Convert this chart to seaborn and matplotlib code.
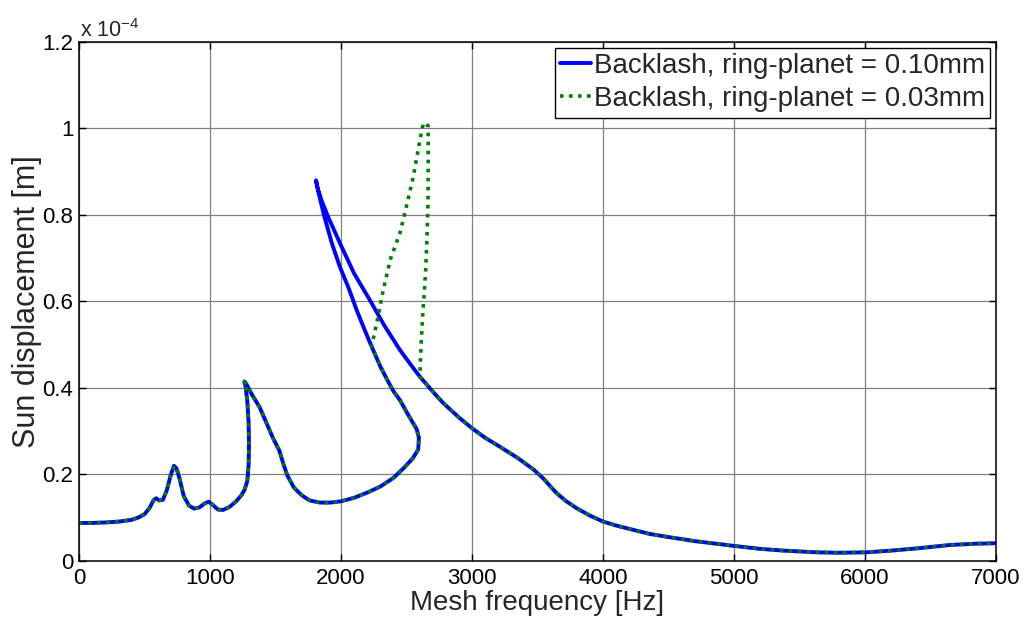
import numpy as np
import pandas as pd
import matplotlib
matplotlib.use("Agg")
import matplotlib.pyplot as plt
import seaborn as sns

# ---------------- data (x in Hz, y in units of 1e-4 m) ----------------
# common low-frequency part (both backlash values)
low_x = [0, 100, 200, 300, 400, 450, 500, 540, 570, 590, 610, 640, 670, 700,
         725, 745, 770, 800, 840, 880, 920, 960, 990, 1020, 1060, 1100, 1150,
         1200, 1240, 1265, 1285, 1295, 1298, 1295, 1285, 1272, 1263, 1280,
         1320, 1380, 1430, 1480, 1530, 1560, 1590, 1640, 1700, 1760, 1840,
         1920, 2000, 2100, 2200, 2300, 2400, 2480, 2550, 2590, 2595]
low_y = [0.088, 0.088, 0.089, 0.091, 0.095, 0.100, 0.108, 0.123, 0.141, 0.145,
         0.140, 0.141, 0.163, 0.198, 0.220, 0.214, 0.188, 0.150, 0.128, 0.121,
         0.124, 0.133, 0.137, 0.130, 0.119, 0.118, 0.125, 0.138, 0.152, 0.165,
         0.185, 0.220, 0.270, 0.320, 0.370, 0.403, 0.415, 0.408, 0.385, 0.355,
         0.320, 0.285, 0.255, 0.225, 0.198, 0.170, 0.152, 0.140, 0.135, 0.135,
         0.138, 0.146, 0.158, 0.172, 0.192, 0.215, 0.238, 0.258, 0.285]

# inner branch of the fold (going up-left), lower part shared by both curves
inner_x = [2578, 2552, 2500, 2450, 2400, 2360, 2300, 2234]
inner_y = [0.305, 0.318, 0.345, 0.372, 0.393, 0.415, 0.450, 0.496]

# remainder of the inner branch up to the tip (0.10 mm only)
tip_x = [2180, 2120, 2060, 1992, 1930, 1870, 1830, 1810, 1816]
tip_y = [0.535, 0.580, 0.630, 0.680, 0.735, 0.800, 0.850, 0.880, 0.868]

# outer branch coming down from the tip (0.10 mm only)
outer_x = [1850, 1900, 1992, 2100, 2221, 2330, 2450, 2530, 2603]
outer_y = [0.835, 0.797, 0.735, 0.665, 0.603, 0.545, 0.488, 0.455, 0.426]

# jump of the 0.03 mm curve
jump_x = [2280, 2323, 2380, 2450, 2500, 2552, 2580, 2603, 2620, 2632, 2650,
          2666, 2666, 2665, 2658, 2648, 2636, 2623, 2612, 2605, 2603]
jump_y = [0.560, 0.627, 0.700, 0.758, 0.820, 0.888, 0.935, 0.973, 1.000, 1.013,
          1.012, 1.005, 0.920, 0.835, 0.760, 0.680, 0.620, 0.565, 0.500, 0.450,
          0.426]

# common high-frequency tail
tail_x = [2700, 2781, 2900, 3000, 3100, 3214, 3350, 3468, 3544, 3600, 3646,
          3720, 3799, 3900, 4002, 4100, 4231, 4350, 4485, 4700, 4995, 5200,
          5377, 5631, 5800, 6013, 6200, 6395, 6649, 6850, 7000]
tail_y = [0.392, 0.365, 0.332, 0.307, 0.285, 0.264, 0.238, 0.212, 0.191, 0.172,
          0.157, 0.138, 0.122, 0.105, 0.091, 0.082, 0.072, 0.063, 0.056, 0.046,
          0.035, 0.028, 0.024, 0.020, 0.019, 0.020, 0.024, 0.029, 0.037, 0.040,
          0.041]

labels = ["Backlash, ring-planet = 0.10mm", "Backlash, ring-planet = 0.03mm"]
xticks = [0, 1000, 2000, 3000, 4000, 5000, 6000, 7000]
yticks = [0, 0.2, 0.4, 0.6, 0.8, 1.0, 1.2]
ytick_labels = ["0", "0.2", "0.4", "0.6", "0.8", "1", "1.2"]

blue_x = low_x + inner_x + tip_x + outer_x + tail_x
blue_y = low_y + inner_y + tip_y + outer_y + tail_y
green_x = low_x + inner_x + jump_x + tail_x
green_y = low_y + inner_y + jump_y + tail_y

df_b = pd.DataFrame({"f": blue_x, "d": blue_y})
df_g = pd.DataFrame({"f": green_x, "d": green_y})

# ---------------- style ----------------
sns.set_style("ticks")
plt.rcParams["font.family"] = ["Liberation Sans", "DejaVu Sans"]
plt.rcParams["mathtext.default"] = "regular"

fig = plt.figure(figsize=(10.24, 6.17), dpi=100)
ax = fig.add_axes([0.0771, 0.0908, 0.8955, 0.8412])

sns.lineplot(data=df_b, x="f", y="d", sort=False, estimator=None, ax=ax,
             color="#0000FF", linewidth=2.8, label=labels[0])
sns.lineplot(data=df_g, x="f", y="d", sort=False, estimator=None, ax=ax,
             color="#008000", linewidth=2.6, linestyle=(0, (1, 1.5)),
             label=labels[1])

ax.set_xlim(0, 7000)
ax.set_ylim(0, 1.2)
ax.set_xticks(xticks)
ax.set_yticks(yticks)
ax.set_yticklabels(ytick_labels)
ax.grid(True, color="#808080", linewidth=0.9)
ax.set_axisbelow(True)
for s in ax.spines.values():
    s.set_visible(True)
    s.set_color("black")
    s.set_linewidth(1.1)
ax.tick_params(direction="in", top=True, right=True, length=5, width=1,
               labelsize=16, colors="black")
ax.tick_params(axis="x", pad=5)
ax.tick_params(axis="y", pad=4)

ax.set_xlabel("Mesh frequency [Hz]", fontsize=20, labelpad=1)
ax.set_ylabel("Sun displacement [m]", fontsize=22, labelpad=0)

ax.annotate("x 10$^{-4}$", xy=(0, 1), xycoords="axes fraction",
            xytext=(0.5, 3.5), textcoords="offset points", ha="left",
            va="baseline", fontsize=15.5)

leg = ax.legend(loc="upper right", fontsize=20, frameon=True, fancybox=False,
                framealpha=1, edgecolor="black", borderpad=0.2,
                labelspacing=0.25, handlelength=1.1, handletextpad=0.1,
                borderaxespad=0.2)
leg.get_frame().set_linewidth(1.0)

fig.savefig("out.png", dpi=100)
